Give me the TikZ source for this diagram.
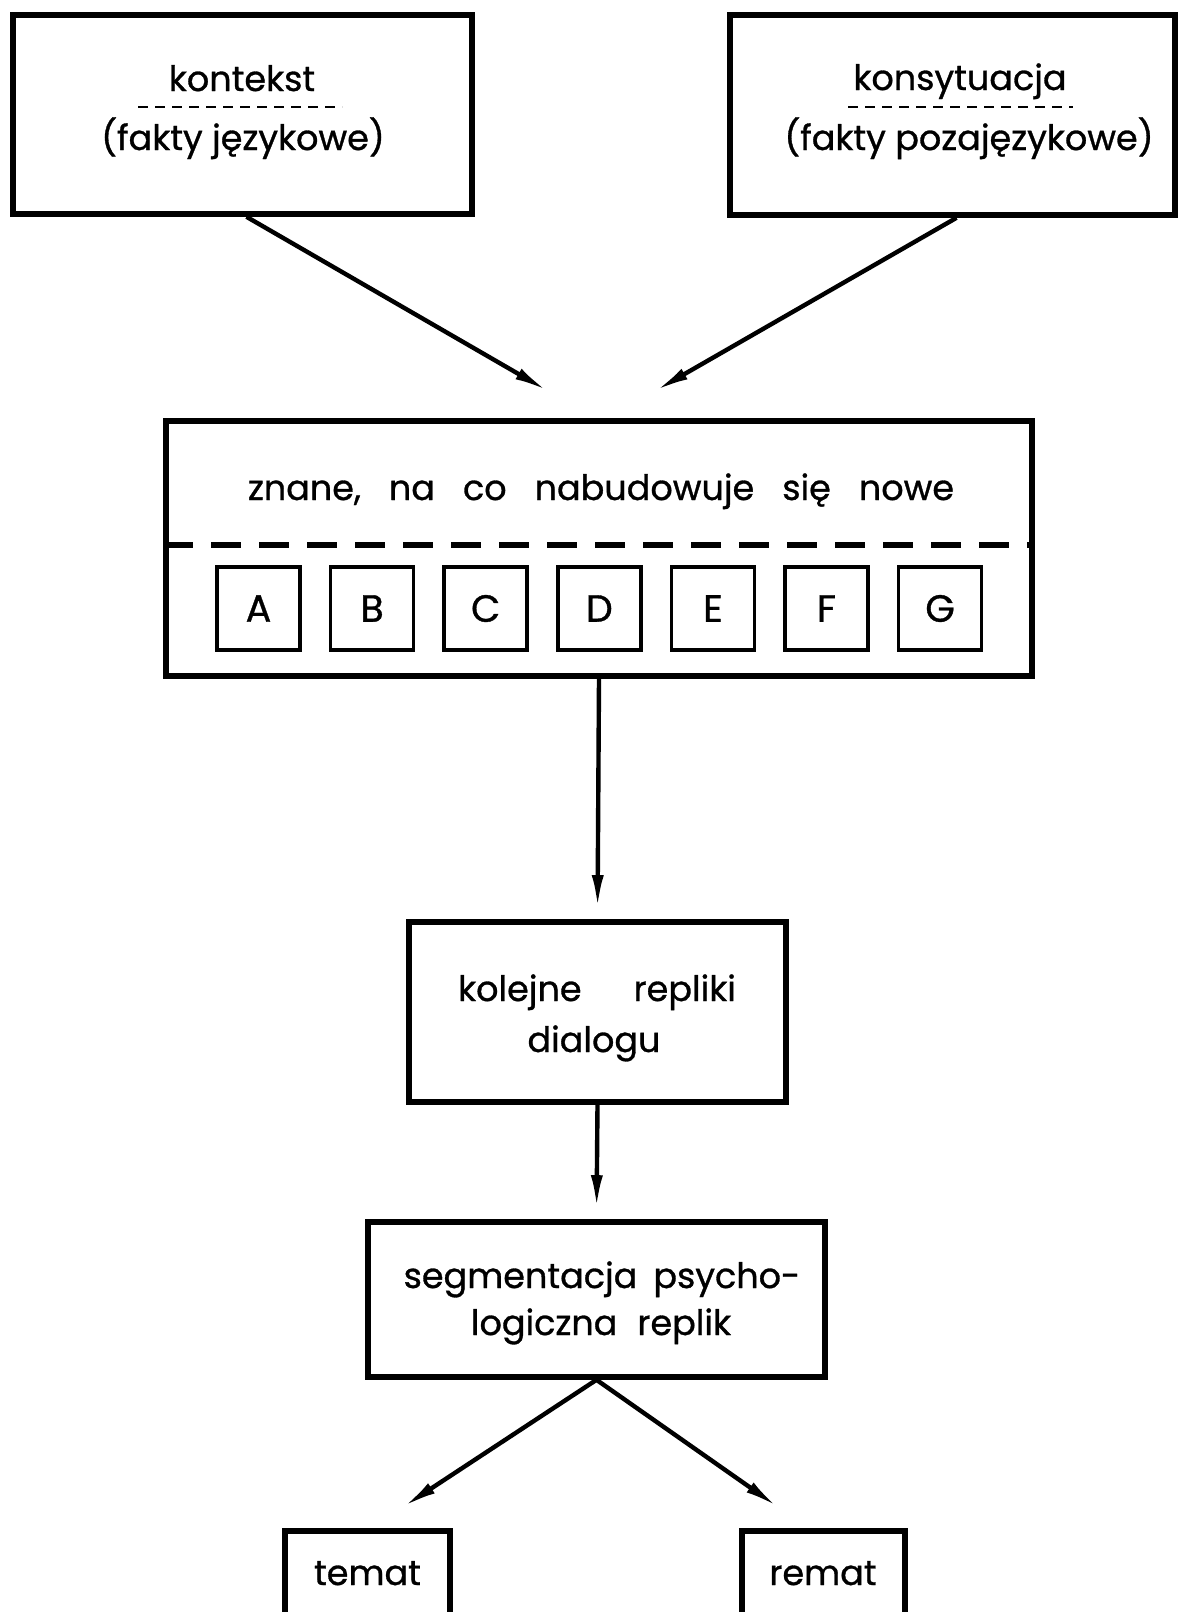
\documentclass[tikz,border=0pt]{standalone}
\usepackage{fontspec}
\setmainfont{Poppins}[FakeBold=0.9]
\usetikzlibrary{arrows.meta}

\begin{document}
\begin{tikzpicture}[x=0.5pt,y=-0.5pt,
    box/.style={draw,line width=2.8pt,inner sep=0pt},
    letterbox/.style={draw,line width=1.8pt,minimum width=41.5pt,minimum height=41.5pt,inner sep=0pt,font=\fontsize{19}{23}\selectfont},
    txt/.style={font=\fontsize{17.5}{20}\selectfont,inner sep=0pt,anchor=base},
    arr/.style={line width=2.2pt,-{Latex[length=17pt,width=6pt]}},
    smalldash/.style={line width=1pt,dash pattern=on 5pt off 3.5pt}]
    \useasboundingbox (0,0) rectangle (1180,1612);
    \node[box,minimum width=229.5pt,minimum height=99.5pt] (kontekst) at (242.5,114.5) {};
    \node[txt] (kontekstname) at (242,91) {kontekst};
    \node[txt] (faktyjez) at (243,150) {(fakty językowe)};
    \draw[smalldash] (138,107) -- (342,107);
    \node[box,minimum width=222.5pt,minimum height=100pt] (konsyt) at (952.5,115) {};
    \node[txt] (konsytname) at (960,90) {konsytuacja};
    \node[txt] (faktypoza) at (969,150) {(fakty pozajęzykowe)};
    \draw[smalldash] (848,107) -- (1073,107);
    \node[box,minimum width=433pt,minimum height=127.5pt] (znane) at (599,548.5) {};
    \node[txt] (znanetxt) at (601,500) {znane,\hspace{14pt}na\hspace{14pt}co\hspace{14pt}nabudowuje\hspace{14pt}się\hspace{14pt}nowe};
    \coordinate (dashy) at (0,545);
    \draw[line width=2.8pt,dash pattern=on 15pt off 9pt] (znane.west |- dashy) -- (znane.east |- dashy);
    \foreach \l [count=\i] in {A,B,C,D,E,F,G}
        \node[letterbox] (seg\l) at ({258.5+(\i-1)*113.6},608.5) {\l};
    \node[box,minimum width=188.5pt,minimum height=90pt] (repliki) at (597.5,1012) {};
    \node[txt] (replikione) at (597,1001) {kolejne\hspace{26pt}repliki};
    \node[txt] (replikitwo) at (594,1052) {dialogu};
    \node[box,minimum width=228.5pt,minimum height=77.5pt] (segm) at (596.5,1299.5) {};
    \node[txt] (segmone) at (602,1288) {segmentacja\hspace{8pt}psycho-};
    \node[txt] (segmtwo) at (601,1335) {logiczna\hspace{10pt}replik};
    \node[box,minimum width=82.5pt,minimum height=42.5pt] (temat) at (367.5,1573.5) {};
    \node[txt] (temattxt) at (367.5,1585) {temat};
    \node[box,minimum width=81.5pt,minimum height=42.5pt] (remat) at (823.5,1573.5) {};
    \node[txt] (remattxt) at (823,1585) {remat};
    \coordinate (tipkont) at (548,391);
    \coordinate (tipkons) at (655,391);
    \coordinate (tiptemat) at (403,1507);
    \coordinate (tipremat) at (778,1507);
    \draw[arr] ([xshift=2pt]kontekst.south) -- (tipkont);
    \draw[arr] ([xshift=2pt]konsyt.south) -- (tipkons);
    \draw[arr,shorten >=5pt] (znane.south) -- (repliki.north);
    \draw[arr,shorten >=5pt] (repliki.south) -- (segm.north);
    \draw[arr] (segm.south) -- (tiptemat);
    \draw[arr] (segm.south) -- (tipremat);
\end{tikzpicture}
\end{document}
